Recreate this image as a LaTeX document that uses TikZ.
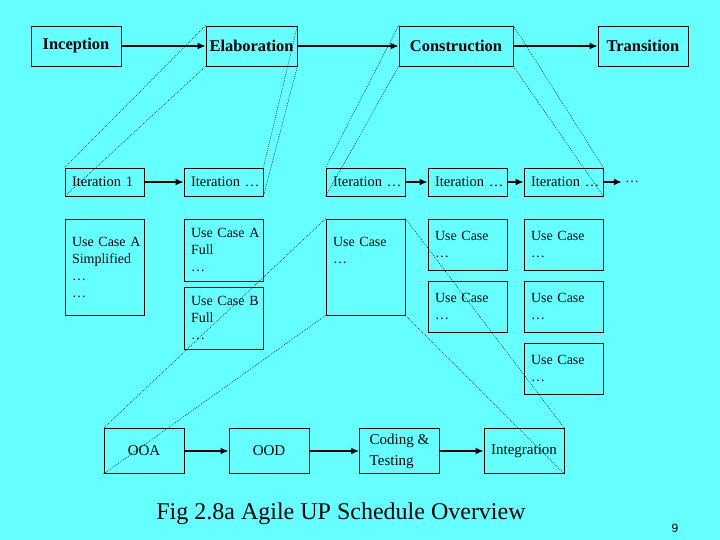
\documentclass[tikz,border=0pt]{standalone}
\usepackage{fontspec}
\setmainfont{Liberation Serif}
\setsansfont{Liberation Sans}
\usetikzlibrary{arrows.meta}
\definecolor{slidecyan}{RGB}{102,255,255}

\begin{document}
\begin{tikzpicture}[x=1pt, y=-1pt,
	phase/.style={draw, line width=0.8pt, minimum width=#1, minimum height=40pt, inner sep=0pt, font=\fontsize{16.4}{19}\selectfont\bfseries},
	iter/.style={draw, line width=0.8pt, minimum height=28pt, text width=65pt, inner xsep=7pt, inner ysep=0pt, align=left, font=\fontsize{14.5}{17}\selectfont},
	ucase/.style={draw, line width=0.8pt, minimum height=#1, text width=65pt, inner xsep=7pt, inner ysep=0pt, align=left, font=\fontsize{14}{17}\selectfont},
	task/.style={draw, line width=0.8pt, minimum width=80pt, minimum height=45pt, inner sep=0pt, align=left, font=\fontsize{15}{21}\selectfont},
	flow/.style={-{Latex[length=8pt,width=7pt]}, line width=2pt},
	zoomline/.style={line width=0.5pt, dash pattern=on 0.8pt off 1.2pt}]
		\path[use as bounding box, fill=slidecyan] (0,0) rectangle (720,540);

		% phases
		\node[phase=90pt] (incep) at (76,46) {\raisebox{2pt}{Inception}};
		\node[phase=91pt] (elab) at (251.5,46) {Elaboration};
		\node[phase=114pt] (constr) at (456,46) {Construction};
		\node[phase=90pt] (trans) at (643,46) {Transition};
		\draw[flow] (incep) -- (elab);
		\draw[flow] (elab) -- (constr);
		\draw[flow] (constr) -- (trans);

		% iterations
		\node[iter] (it1) at (104.5,182) {Iteration~1};
		\node[iter] (it2) at (223.5,182) {Iteration~…};
		\node[iter] (it3) at (365.5,182) {Iteration~…};
		\node[iter] (it4) at (467.5,182) {Iteration~…};
		\node[iter] (it5) at (563.5,182) {Iteration~…};
		\node[inner sep=3pt, font=\fontsize{14}{17}\selectfont] (itmore) at (632,182) {…};
		\draw[flow] (it1) -- (it2);
		\draw[flow] (it3) -- (it4);
		\draw[flow] (it4) -- (it5);
		\draw[flow] (it5) -- (itmore);

		% use cases
		\node[ucase=96pt] (ucA1) at (104.5,267) {Use~Case~A\\Simplified\\…\\…};
		\node[ucase=62pt] (ucA2) at (223.5,250) {Use~Case~A\\Full\\…};
		\node[ucase=62pt] (ucB2) at (223.5,318) {Use~Case~B\\Full\\…};
		\node[ucase=96pt] (uc3) at (365.5,267) {Use~Case\\…\\~\\~};
		\node[ucase=51pt] (uc4a) at (467.5,244.5) {Use~Case\\…};
		\node[ucase=51pt] (uc4b) at (467.5,306.5) {Use~Case\\…};
		\node[ucase=51pt] (uc5a) at (563.5,244.5) {Use~Case\\…};
		\node[ucase=51pt] (uc5b) at (563.5,306.5) {Use~Case\\…};
		\node[ucase=51pt] (uc5c) at (563.5,368.5) {Use~Case\\…};

		% tasks
		\node[task] (ooa) at (144,451) {\raisebox{-6pt}{OOA}};
		\node[task] (ood) at (269,451) {\raisebox{-6pt}{OOD}};
		\node[task] (code) at (399.5,451) {Coding \&\\Testing};
		\node[task] (integ) at (524,451) {\raisebox{-8pt}{Integration}};
		\draw[flow] (ooa) -- (ood);
		\draw[flow] (ood) -- (code);
		\draw[flow] (code) -- (integ);

		% zoom lines
		\draw[zoomline] (elab.north west) -- (it1.north west);
		\draw[zoomline] (elab.south west) -- (it1.south west);
		\draw[zoomline] (elab.north east) -- (it2.north east);
		\draw[zoomline] (elab.south east) -- (it2.south east);
		\draw[zoomline] (constr.north west) -- (it3.north west);
		\draw[zoomline] (constr.south west) -- (it3.south west);
		\draw[zoomline] (constr.north east) -- (it5.north east);
		\draw[zoomline] (constr.south east) -- (it5.south east);
		\draw[zoomline] (uc3.north west) -- (ooa.north west);
		\draw[zoomline] (uc3.south west) -- (ooa.south west);
		\draw[zoomline] (uc3.north east) -- (integ.north east);
		\draw[zoomline] (uc3.south east) -- (integ.south east);

		\node[font=\fontsize{24}{28}\selectfont] (caption) at (341,514) {Fig 2.8a Agile UP Schedule Overview};
		\node[font=\sffamily\fontsize{12}{14}\selectfont] (pagenum) at (675,528) {9};

\end{tikzpicture}
\end{document}
